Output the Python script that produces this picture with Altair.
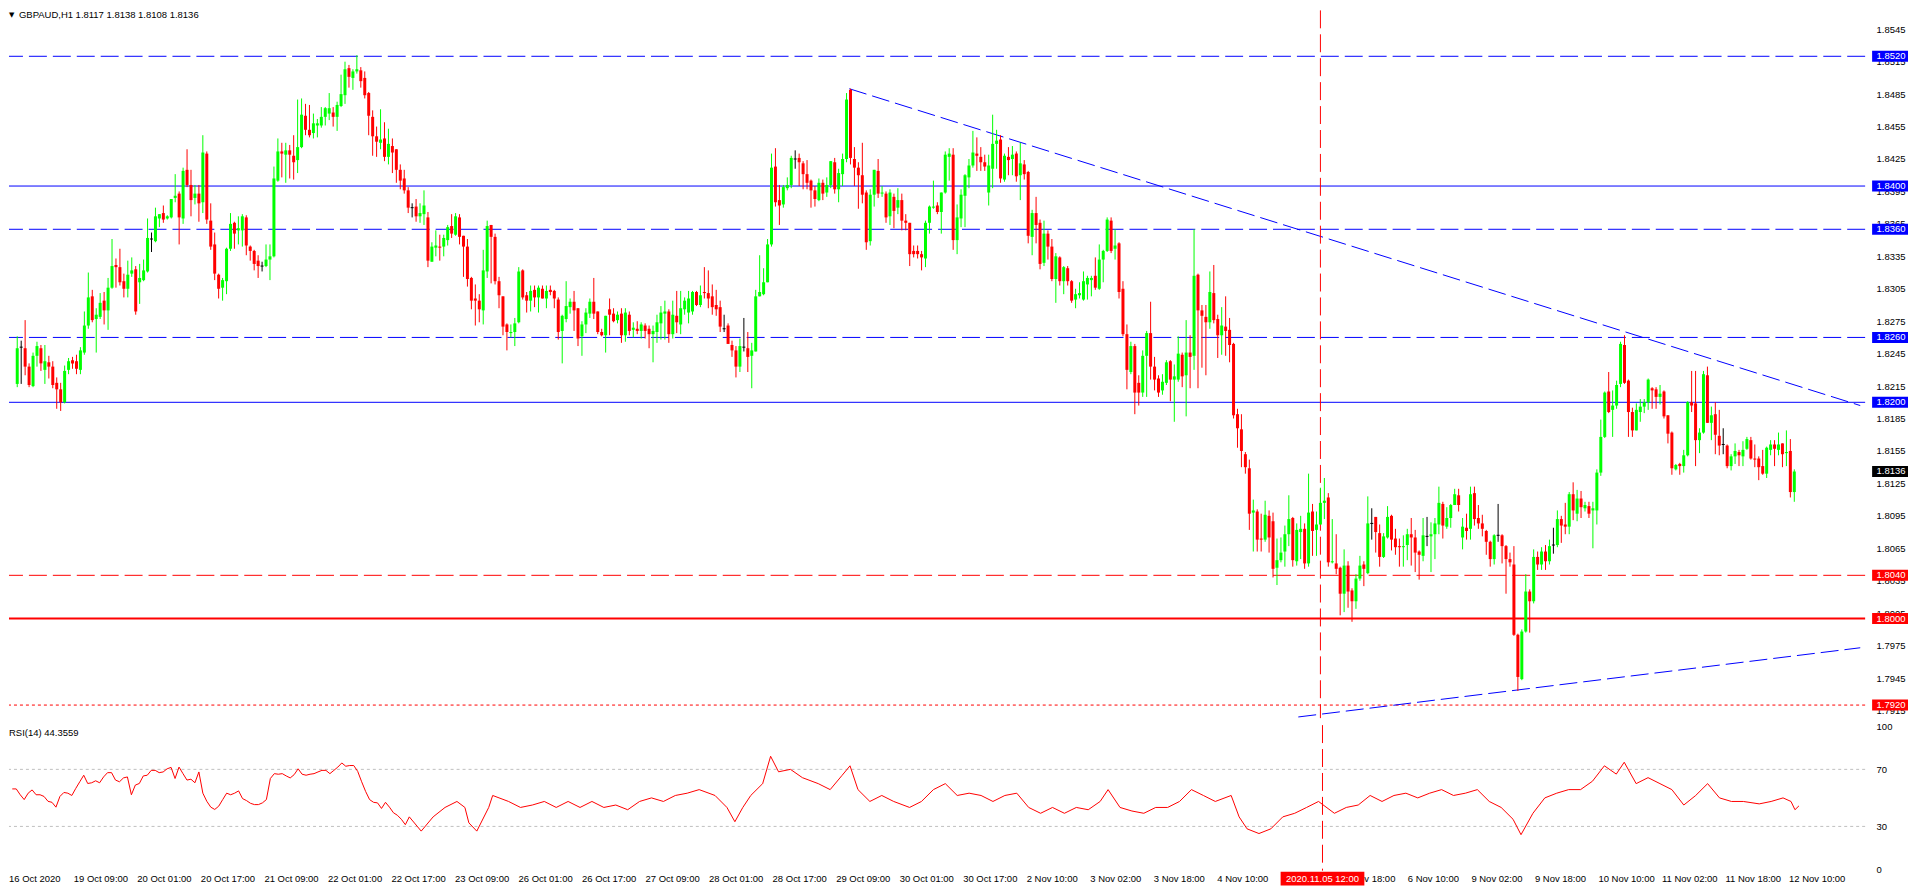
import altair as alt
import pandas as pd

# ---------------- data ----------------
HEADER_TEXT = "GBPAUD,H1  1.8117 1.8138 1.8108 1.8136"
RSI_TEXT = "RSI(14) 44.3559"
BASE = 1.8          # prices below are stored as pips above 1.8000
PIP = 0.0001

OPEN = [217,251,250,233,215,243,250,230,237,233,218,212,200,230,239,238,230,246,271,298,
277,279,294,285,306,327,325,312,305,319,323,311,313,321,351,349,370,375,370,371,
389,393,370,415,401,389,393,385,430,368,346,318,306,312,342,366,359,359,371,344,
340,331,326,326,332,335,405,432,429,433,428,424,436,465,452,449,456,456,464,467,
468,464,474,484,509,500,506,507,500,486,464,446,440,444,427,437,434,415,407,396,
380,381,372,374,371,330,343,344,344,350,363,355,371,354,344,315,296,294,285,321,
364,353,312,298,272,264,265,274,322,299,294,304,297,305,296,304,303,295,266,277,
288,293,287,261,272,282,293,284,265,262,286,282,276,282,262,281,267,268,266,271,
268,263,265,273,282,284,263,280,272,286,283,284,302,290,302,301,298,290,288,268,
271,253,248,233,251,250,243,247,298,300,311,346,418,387,383,398,401,425,426,421,
411,405,396,387,403,394,401,422,397,411,425,489,425,417,410,394,349,392,414,393,
393,372,390,380,387,368,366,340,340,337,333,366,380,382,376,394,427,429,350,370,
391,408,419,430,427,422,394,416,439,443,406,427,425,430,410,420,413,353,375,366,
329,356,344,314,334,312,324,312,295,299,295,309,313,317,305,332,340,368,342,347,
305,263,228,252,218,209,243,264,233,222,211,218,238,221,221,244,225,246,243,318,
285,279,274,301,277,262,270,267,254,189,175,152,139,98,99,74,73,95,90,47,
54,62,78,93,53,80,83,51,99,82,87,107,112,52,51,47,23,49,26,16,
37,50,42,88,94,79,57,75,95,74,67,66,68,78,75,62,58,76,76,78,
87,106,85,93,105,114,75,84,83,116,93,88,81,71,55,77,77,67,55,50,
-15,-56,-12,25,16,57,50,62,53,68,68,92,87,85,115,97,111,102,104,100,
100,135,168,210,193,197,217,253,220,191,174,191,196,200,213,212,205,210,188,172,
138,143,141,151,200,199,165,172,225,181,189,169,161,160,141,150,154,150,157,165,
148,148,141,134,156,161,156,162,153,155,117]

HIGH = [261,257,276,236,246,256,253,253,243,238,223,218,234,241,242,244,251,284,320,304,
287,301,302,315,351,333,342,319,331,334,326,328,332,370,357,380,374,382,373,388,
411,395,417,434,415,401,401,447,432,384,357,319,315,343,375,367,372,374,373,345,
341,336,330,346,346,418,444,440,440,438,447,480,481,476,475,467,462,473,473,486,
473,478,503,515,512,508,521,510,506,487,470,455,471,459,453,444,434,420,415,399,
384,388,384,396,376,348,359,355,355,364,374,375,374,354,351,316,309,300,341,368,
364,356,316,298,273,272,278,325,323,302,308,308,308,308,308,308,304,297,281,312,
296,303,287,275,287,296,315,284,268,280,296,287,284,287,287,284,274,275,274,273,
271,271,281,289,294,286,294,303,303,297,303,303,303,308,325,322,309,304,294,281,
273,257,252,259,278,265,255,304,336,324,351,430,435,401,401,408,428,433,430,423,
424,406,400,407,406,408,423,426,416,430,486,490,436,422,440,396,397,415,425,400,
395,397,393,398,393,374,366,345,345,340,368,382,405,385,394,432,435,435,383,397,
411,425,451,445,436,429,429,466,452,447,430,436,437,432,440,424,414,378,390,369,
368,359,351,338,335,326,326,313,305,311,321,317,317,334,346,341,371,371,360,348,
312,272,256,254,225,248,266,293,242,225,226,239,239,235,261,246,276,262,360,319,
290,290,321,327,281,288,298,278,255,194,189,154,147,110,101,97,109,100,98,74,
75,86,114,94,88,95,88,134,106,99,121,130,116,92,78,48,64,53,28,41,
58,53,113,102,94,87,79,104,96,83,74,77,83,93,82,63,93,94,89,93,
122,108,103,106,120,120,93,97,122,122,105,96,82,72,78,106,78,68,61,67,
-14,-10,41,27,64,62,66,68,73,84,100,95,107,117,126,119,118,108,108,108,
138,184,210,228,211,220,256,262,221,195,199,203,203,222,214,214,216,211,188,173,
143,144,156,201,229,229,176,229,233,196,200,193,176,161,152,162,156,164,168,168,
161,150,156,159,165,165,172,162,174,166,138]

LOW = [214,217,225,214,214,233,229,217,222,213,194,192,199,226,231,226,226,244,268,274,
246,277,272,267,305,306,308,297,297,316,281,291,312,320,339,348,362,366,369,370,
385,346,365,399,372,383,367,375,365,341,313,296,294,300,340,342,346,344,336,331,
322,315,321,325,313,334,404,408,403,407,406,412,435,447,445,444,445,454,456,461,
455,451,473,476,491,489,504,491,481,447,428,427,434,423,420,412,403,397,393,375,
371,367,366,364,325,330,335,331,335,345,352,354,346,316,307,286,271,274,272,315,
310,309,287,262,248,260,252,273,295,283,284,288,283,296,287,299,287,258,236,274,
282,266,252,243,264,278,277,263,261,246,262,274,273,255,256,262,260,263,259,259,
250,237,255,258,258,255,259,264,263,281,273,281,289,288,296,287,281,280,265,265,
254,242,223,228,247,228,213,247,298,299,311,344,381,364,380,396,398,416,400,397,
397,380,381,386,387,390,398,393,385,400,422,420,400,379,384,341,345,381,389,390,
366,364,361,374,359,359,326,334,333,322,325,356,379,374,356,393,405,341,337,362,
362,398,417,414,414,414,382,398,416,403,404,410,410,404,387,406,347,336,347,323,
326,332,312,292,308,300,308,292,287,296,294,295,298,304,304,311,339,338,332,296,
261,212,226,189,197,205,205,221,211,205,207,216,201,182,219,214,187,213,230,213,
232,225,268,273,241,244,243,237,185,158,140,134,82,62,62,62,71,61,38,31,
52,48,67,48,49,55,46,48,58,58,87,92,48,51,41,3,6,10,-3,9,
35,30,41,73,61,48,56,74,63,59,48,48,54,49,43,36,53,67,43,55,
78,74,83,84,105,99,64,73,73,86,83,76,59,48,50,71,51,23,48,-16,
-67,-57,-13,-13,14,45,45,45,50,60,66,70,78,78,91,90,93,99,93,65,
87,132,167,190,168,194,214,217,168,168,174,182,190,193,194,194,198,185,162,133,
137,133,135,150,191,141,153,171,181,165,152,151,152,139,137,143,141,141,156,147,
140,128,133,130,151,141,151,140,141,112,108]

CLOSE = [250,251,233,216,243,252,236,238,233,216,212,200,229,238,236,231,248,271,297,276,
281,292,285,306,326,325,311,305,318,322,284,315,322,352,351,372,374,369,372,388,
391,371,414,401,387,393,384,431,369,344,319,305,313,342,365,356,361,372,345,340,
328,326,326,332,335,407,432,430,433,429,422,436,466,452,447,458,458,464,472,472,
464,475,485,508,501,506,508,497,484,465,446,441,443,427,439,431,415,405,396,380,
380,372,375,382,331,344,345,343,352,362,356,372,353,344,314,294,294,286,322,363,
353,312,299,270,265,265,273,321,297,294,303,297,306,296,303,302,296,265,280,289,
293,285,259,272,283,293,282,265,262,280,281,275,281,262,283,266,269,266,272,266,
263,266,274,283,284,263,281,274,287,294,296,302,290,299,301,296,288,286,270,268,
254,248,233,252,251,242,248,298,302,311,346,417,385,382,399,401,426,425,422,411,
403,396,388,403,393,401,423,397,412,425,480,426,417,410,392,348,392,415,393,394,
371,394,377,387,368,366,337,337,337,334,366,381,381,376,394,429,430,350,371,392,
410,419,431,428,422,418,419,439,442,407,428,424,429,409,421,411,354,375,364,328,
356,344,314,335,312,325,312,294,300,301,312,315,315,306,332,340,369,340,345,302,
263,230,252,209,209,243,264,233,221,209,219,237,221,224,245,224,246,242,317,285,
280,274,302,276,262,271,266,253,188,176,155,140,97,100,73,73,96,75,46,54,
61,78,92,54,82,83,51,98,81,87,107,109,52,53,46,23,49,25,16,37,
49,46,88,88,80,57,76,94,73,66,66,67,78,75,61,59,77,76,78,88,
107,86,93,105,115,105,85,81,115,92,88,83,71,55,77,77,67,55,52,-15,
-54,-12,25,16,57,50,62,53,67,68,92,86,85,115,100,111,103,105,97,102,
135,168,209,191,197,216,254,218,191,174,193,196,200,221,211,205,208,187,171,139,
142,141,151,200,197,165,172,226,181,188,170,160,161,141,150,155,151,156,166,148,
147,140,134,158,161,157,161,152,154,117,136]

RSI_INDEX = [0,1,2,3,4,5,6,7,8,9,10,11,12,13,14,15,16,17,18,19,
20,21,22,23,24,25,26,27,28,29,30,31,32,33,34,35,36,37,38,39,
40,41,42,43,44,45,46,47,48,49,50,51,52,53,54,55,56,57,58,59,
60,61,62,63,64,65,66,67,68,69,70,71,72,73,74,75,76,77,78,79,
80,81,82,83,84,85,86,87,88,89,90,91,92,93,94,95,96,97,98,99,
100,103,106,109,112,114,115,117,120,121,125,128,131,134,137,140,143,146,149,152,
155,158,161,164,167,170,173,177,180,182,184,186,189,191,193,196,199,203,206,209,
211,213,216,219,222,226,229,232,235,238,241,244,247,250,253,256,259,262,265,268,
271,274,276,279,282,285,288,291,294,297,300,303,307,309,311,314,317,320,323,326,
329,333,336,339,342,345,348,351,354,357,360,363,366,369,372,375,378,380,383,386,
389,392,395,398,401,404,406,409,412,415,418,421,424,427,430,433,436,440,443,446,
448,449,450]
RSI_VALUE = [56.3,56.3,52.2,48.8,53.3,55.6,52.2,52.2,51.0,47.6,46.9,43.5,51.0,53.8,53.3,51.7,56.7,61.3,65.9,60.1,
60.6,62.0,60.6,64.7,67.7,67.7,62.5,61.3,64.0,64.7,52.2,59.0,60.1,65.4,65.9,69.3,69.3,67.7,68.2,70.4,
71.4,63.6,71.6,67.0,62.5,63.1,60.6,68.2,53.3,47.6,43.5,41.9,44.2,48.8,53.3,52.2,53.3,54.9,49.5,48.1,
46.2,45.3,45.3,46.5,48.8,63.6,67.0,66.6,67.0,65.4,64.0,66.3,70.4,66.6,65.9,66.6,67.0,68.2,69.3,69.3,
67.0,69.3,71.6,74.5,72.2,72.7,72.7,68.6,61.3,54.5,48.8,46.9,46.5,42.6,46.9,43.5,39.6,37.8,35.0,31.2,
36.7,26.7,36.7,43.3,47.5,43.3,32.5,26.7,43.3,51.7,47.5,43.3,45.0,47.5,43.3,47.5,43.3,47.5,43.3,45.0,
41.7,47.5,50.0,47.5,51.7,53.3,55.8,51.7,43.3,33.3,43.3,51.7,60.0,79.2,68.3,70.0,64.2,60.0,55.8,65.8,
72.5,55.8,47.5,51.7,47.5,43.3,47.5,55.8,60.0,51.7,53.3,51.7,47.5,51.7,53.3,43.3,39.2,43.3,39.2,43.3,
41.7,47.5,55.8,43.3,40.8,39.2,43.3,43.3,47.5,55.8,51.7,47.5,51.7,36.7,28.3,25.0,28.3,36.7,39.2,43.3,
47.5,39.2,43.3,45.0,51.7,47.5,51.7,53.3,50.0,53.3,55.8,51.7,53.3,55.8,47.5,43.3,35.0,24.2,39.2,50.0,
53.3,55.8,55.8,61.7,72.5,66.7,75.0,60.0,64.2,60.0,55.8,45.0,51.7,60.0,50.0,47.5,47.5,45.8,47.5,50.0,
47.5,41.7,44.4]

PRICE_TICKS = [1.8545, 1.8515, 1.8485, 1.8455, 1.8425, 1.8395, 1.8365, 1.8335, 1.8305,
               1.8275, 1.8245, 1.8215, 1.8185, 1.8155, 1.8125, 1.8095, 1.8065, 1.8035,
               1.8005, 1.7975, 1.7945, 1.7915]
RSI_TICKS = [0, 30, 70, 100]
RSI_LEVELS = [70, 30]

BLUE_DASH_LEVELS = [1.8520, 1.8360, 1.8260]
BLUE_SOLID_LEVELS = [1.8400, 1.8200]
RED_DASH_LEVELS = [1.8040]
RED_SOLID_LEVELS = [1.8000]
RED_DOT_LEVELS = [1.7920]

TREND_DOWN_INDEX = [210.7, 466.7]
TREND_DOWN_PRICE = [1.8490, 1.8197]
TREND_UP_INDEX = [324.4, 466.7]
TREND_UP_PRICE = [1.7909, 1.7973]

VLINE_INDEX = [330]
VLINE_LABEL = ["2020.11.05 12:00"]

# the "5 Nov 02:00" label lies fully under the highlighted date box, so it is not listed
FIRST_TIME_LABEL = "16 Oct 2020"
TIME_INDEX = [15, 31, 47, 63, 79, 95, 111, 127, 143, 159, 175, 191, 207, 223, 239,
              255, 271, 287, 303, 335, 351, 367, 383, 399, 415, 431, 447]
TIME_LABELS = ["19 Oct 09:00", "20 Oct 01:00", "20 Oct 17:00", "21 Oct 09:00",
               "22 Oct 01:00", "22 Oct 17:00", "23 Oct 09:00", "26 Oct 01:00",
               "26 Oct 17:00", "27 Oct 09:00", "28 Oct 01:00", "28 Oct 17:00",
               "29 Oct 09:00", "30 Oct 01:00", "30 Oct 17:00", "2 Nov 10:00",
               "3 Nov 02:00", "3 Nov 18:00", "4 Nov 10:00",
               "5 Nov 18:00", "6 Nov 10:00", "9 Nov 02:00", "9 Nov 18:00",
               "10 Nov 10:00", "11 Nov 02:00", "11 Nov 18:00", "12 Nov 10:00"]

# ---------------- layout / style ----------------
W = 1862
H_PRICE = 710
H_RSI = 146
FONT = "Liberation Sans"
FS = 9.5
X_DOMAIN = [-0.825, 466.675]
P_DOMAIN = [1.790791, 1.856245]
R_DOMAIN = [-1.03, 101.03]
BLUE = "#0000FF"
RED = "#FF0000"

x_scale = alt.Scale(domain=X_DOMAIN, nice=False, zero=False)
p_scale = alt.Scale(domain=P_DOMAIN, nice=False, zero=False)
r_scale = alt.Scale(domain=R_DOMAIN, nice=False, zero=False)

P_AXIS = alt.Axis(orient="right", values=PRICE_TICKS, format=".4f", grid=False, ticks=False,
                  tickSize=0, domain=False, labelPadding=11, labelFont=FONT, labelFontSize=FS,
                  labelColor="#000000", labelAlign="left", labelBaseline="middle", title=None)
R_AXIS = alt.Axis(orient="right", values=RSI_TICKS, format="d", grid=False, ticks=False,
                  tickSize=0, domain=False, labelPadding=11, labelFont=FONT, labelFontSize=FS,
                  labelColor="#000000", labelAlign="left", labelFlush=True, title=None)

def X(field="i:Q"):
    return alt.X(field, scale=x_scale, axis=None, title=None)

def PY(field):
    return alt.Y(field, scale=p_scale, axis=P_AXIS, title=None)

def RY(field):
    return alt.Y(field, scale=r_scale, axis=R_AXIS, title=None)

n = len(CLOSE)
candles = pd.DataFrame({
    "i": list(range(n)),
    "open": [BASE + v * PIP for v in OPEN],
    "high": [BASE + v * PIP for v in HIGH],
    "low": [BASE + v * PIP for v in LOW],
    "close": [BASE + v * PIP for v in CLOSE],
})
candles["dir"] = ["up" if c > o else ("down" if c < o else "flat")
                  for o, c in zip(OPEN, CLOSE)]
ccolor = alt.Color("dir:N", scale=alt.Scale(domain=["up", "down", "flat"],
                                            range=["#00FF00", "#FF0000", "#000000"]),
                   legend=None)

def level_layer(levels, color, dash, width):
    df = pd.DataFrame({"price": levels})
    kw = dict(color=color, strokeWidth=width)
    if dash:
        kw["strokeDash"] = dash
    return alt.Chart(df).mark_rule(**kw).encode(y=PY("price:Q"))

def box_layer(levels, color):
    df = pd.DataFrame({"price": levels, "label": [f"{v:.4f}" for v in levels]})
    base = alt.Chart(df)
    rect = base.mark_rect(color=color, yOffset=-5.5, y2Offset=5.5).encode(
        x=alt.value(W + 7), x2=alt.value(W + 43), y=PY("price:Q"), y2="price:Q")
    txt = base.mark_text(align="left", baseline="middle", color="white", font=FONT,
                         fontSize=FS).encode(x=alt.value(W + 11.5), y=PY("price:Q"),
                                             text="label:N")
    return rect + txt

wicks = alt.Chart(candles).mark_rule(strokeWidth=1).encode(
    x=X(), y=PY("low:Q"), y2="high:Q", color=ccolor)
bodies = alt.Chart(candles).transform_filter("datum.dir != 'flat'").mark_bar(width=3).encode(
    x=X(), y=PY("open:Q"), y2="close:Q", color=ccolor)
dojis = alt.Chart(candles).transform_filter("datum.dir == 'flat'").mark_rule(
    xOffset=-1.5, x2Offset=1.5, color="#000000", strokeWidth=1).encode(
    x=X(), x2="i:Q", y=PY("close:Q"))

trend_down = alt.Chart(pd.DataFrame({"i": TREND_DOWN_INDEX, "price": TREND_DOWN_PRICE})).mark_line(
    color=BLUE, strokeWidth=1, strokeDash=[18, 6]).encode(x=X(), y=PY("price:Q"))
trend_up = alt.Chart(pd.DataFrame({"i": TREND_UP_INDEX, "price": TREND_UP_PRICE})).mark_line(
    color=BLUE, strokeWidth=1, strokeDash=[18, 6]).encode(x=X(), y=PY("price:Q"))

vline_df = pd.DataFrame({"i": VLINE_INDEX, "label": VLINE_LABEL})
vline_p = alt.Chart(vline_df).mark_rule(color=RED, strokeWidth=1, strokeDash=[18, 6]).encode(x=X())

header = alt.Chart(pd.DataFrame({"t": [HEADER_TEXT]})).mark_text(
    align="left", baseline="middle", font=FONT, fontSize=FS, color="#000000").encode(
    x=alt.value(10), y=alt.value(4.5), text="t:N")
tri = alt.Chart(pd.DataFrame({"t": ["\u25BC"]})).mark_text(
    align="left", baseline="middle", font="DejaVu Sans", fontSize=7, color="#000000").encode(
    x=alt.value(0), y=alt.value(4.5), text="t:N")

last_close = [BASE + CLOSE[-1] * PIP]

price = alt.layer(
    level_layer(BLUE_DASH_LEVELS, BLUE, [18, 6], 1),
    level_layer(BLUE_SOLID_LEVELS, BLUE, None, 1),
    level_layer(RED_DASH_LEVELS, RED, [18, 6], 1),
    level_layer(RED_SOLID_LEVELS, RED, None, 2),
    level_layer(RED_DOT_LEVELS, RED, [3, 3], 1),
    trend_down, trend_up, vline_p,
    wicks, bodies, dojis,
    box_layer(BLUE_DASH_LEVELS + BLUE_SOLID_LEVELS, BLUE),
    box_layer(RED_DASH_LEVELS + RED_SOLID_LEVELS + RED_DOT_LEVELS, RED),
    box_layer(last_close, "#000000"),
    tri, header,
).properties(width=W, height=H_PRICE)

# ---------------- RSI panel ----------------
rsi_df = pd.DataFrame({"i": RSI_INDEX, "rsi": RSI_VALUE})
rsi_line = alt.Chart(rsi_df).mark_line(color=RED, strokeWidth=1).encode(x=X(), y=RY("rsi:Q"))
rsi_levels = alt.Chart(pd.DataFrame({"v": RSI_LEVELS})).mark_rule(
    color="#C0C0C0", strokeWidth=1, strokeDash=[3, 3]).encode(y=RY("v:Q"))
vline_r = alt.Chart(vline_df).mark_rule(color=RED, strokeWidth=1, strokeDash=[18, 6]).encode(x=X())
rsi_title = alt.Chart(pd.DataFrame({"t": [RSI_TEXT]})).mark_text(
    align="left", baseline="middle", font=FONT, fontSize=FS, color="#000000").encode(
    x=alt.value(0), y=alt.value(8), text="t:N")

time_df = pd.DataFrame({"i": TIME_INDEX, "label": TIME_LABELS})
time_text = alt.Chart(time_df).mark_text(
    align="left", baseline="middle", dx=2, font=FONT, fontSize=FS, color="#000000").encode(
    x=X(), y=alt.value(H_RSI + 8), text="label:N")
first_time = alt.Chart(pd.DataFrame({"t": [FIRST_TIME_LABEL]})).mark_text(
    align="left", baseline="middle", font=FONT, fontSize=FS, color="#000000").encode(
    x=alt.value(0), y=alt.value(H_RSI + 8), text="t:N")
vbox = alt.Chart(vline_df).mark_rect(color=RED, xOffset=-42, x2Offset=42).encode(
    x=X(), x2="i:Q", y=alt.value(H_RSI + 1), y2=alt.value(H_RSI + 15))
vbox_text = alt.Chart(vline_df).mark_text(
    align="center", baseline="middle", font=FONT, fontSize=FS, color="white").encode(
    x=X(), y=alt.value(H_RSI + 8), text="label:N")

rsi = alt.layer(
    rsi_levels, vline_r, rsi_line, rsi_title, first_time, time_text, vbox, vbox_text
).properties(width=W, height=H_RSI)

chart = alt.vconcat(price, rsi, spacing=2).properties(
    padding=0, background="white"
).configure_view(stroke=None)

chart.save("out.html", embed_options={"renderer": "svg", "actions": False})
